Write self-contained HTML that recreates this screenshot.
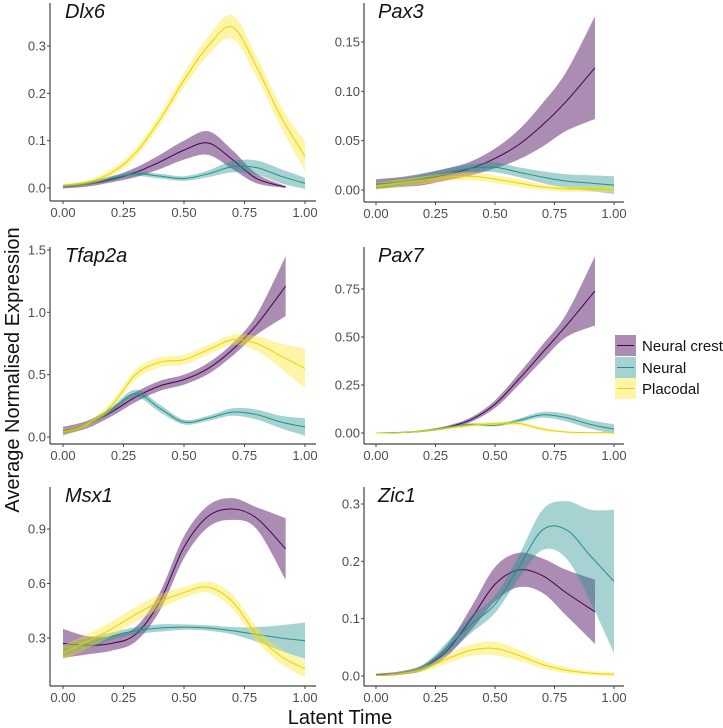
<!DOCTYPE html>
<html><head><meta charset="utf-8"><style>
body{margin:0;background:#fff;}
svg{display:block;font-family:"Liberation Sans",sans-serif;}
</style></head><body>
<svg id="chart" width="723" height="728">
<text x="19" y="370" transform="rotate(-90 19 370)" text-anchor="middle" font-size="20" fill="#111">Average Normalised Expression</text>
<text x="340" y="724" text-anchor="middle" font-size="20" fill="#111">Latent Time</text>
<g>
<rect x="615" y="335" width="21" height="21" fill="#440154" fill-opacity="0.45"/>
<line x1="617" x2="634" y1="345.5" y2="345.5" stroke="#440154"/>
<text x="642" y="351" font-size="15" fill="#111">Neural crest</text>
<rect x="615" y="357" width="21" height="21" fill="#21908C" fill-opacity="0.4"/>
<line x1="617" x2="634" y1="367.5" y2="367.5" stroke="#21908C"/>
<text x="642" y="373" font-size="15" fill="#111">Neural</text>
<rect x="615" y="378" width="21" height="21" fill="#FDE725" fill-opacity="0.4"/>
<line x1="617" x2="634" y1="388.5" y2="388.5" stroke="#E6D300"/>
<text x="642" y="394" font-size="15" fill="#111">Placodal</text>
</g>
</svg>
<script>
const xGrid = [0,0.1,0.2,0.3,0.4,0.5,0.6,0.7,0.8,0.9,1.0];
const xCrest = [0,0.1,0.2,0.3,0.4,0.5,0.6,0.7,0.8,0.92];

const dlx6Crest = [0.003,0.008,0.018,0.033,0.055,0.08,0.095,0.06,0.02,0.002];
const dlx6CrestHw = [0.004,0.005,0.006,0.01,0.015,0.02,0.025,0.02,0.01,0.002];
const dlx6Neural = [0.003,0.01,0.02,0.03,0.025,0.02,0.03,0.045,0.043,0.025,0.01];
const dlx6NeuralHw = [0.003,0.004,0.005,0.005,0.005,0.005,0.007,0.012,0.015,0.015,0.012];
const dlx6Plac = [0.006,0.012,0.032,0.074,0.144,0.228,0.3,0.34,0.256,0.151,0.067];
const dlx6PlacHw = [0.003,0.005,0.008,0.01,0.012,0.015,0.02,0.025,0.022,0.022,0.032];

const pax3Crest = [0.006,0.008,0.011,0.016,0.022,0.032,0.046,0.066,0.09,0.124];
const pax3CrestHw = [0.005,0.005,0.006,0.006,0.007,0.01,0.015,0.022,0.03,0.052];
const pax3Neural = [0.005,0.008,0.012,0.018,0.022,0.023,0.018,0.013,0.009,0.007,0.005];
const pax3NeuralHw = [0.004,0.004,0.004,0.004,0.004,0.005,0.005,0.006,0.007,0.008,0.009];
const pax3Plac = [0.004,0.007,0.01,0.013,0.014,0.011,0.007,0.003,0.001,0.001,0.0005];
const pax3PlacHw = [0.004,0.004,0.004,0.004,0.004,0.004,0.004,0.003,0.003,0.003,0.003];

const tfap2aCrest = [0.05,0.1,0.2,0.32,0.41,0.46,0.55,0.7,0.9,1.21];
const tfap2aCrestHw = [0.03,0.03,0.035,0.04,0.04,0.04,0.045,0.05,0.08,0.24];
const tfap2aNeural = [0.03,0.1,0.22,0.35,0.23,0.12,0.15,0.2,0.18,0.12,0.08];
const tfap2aNeuralHw = [0.02,0.02,0.02,0.03,0.03,0.02,0.02,0.03,0.04,0.05,0.07];
const tfap2aPlac = [0.04,0.1,0.25,0.5,0.6,0.62,0.7,0.78,0.75,0.65,0.55];
const tfap2aPlacHw = [0.02,0.02,0.03,0.04,0.04,0.04,0.04,0.04,0.06,0.1,0.16];

const pax7Crest = [0,0.002,0.01,0.03,0.07,0.15,0.28,0.42,0.56,0.74];
const pax7CrestHw = [0.001,0.002,0.004,0.008,0.012,0.02,0.03,0.04,0.06,0.18];
const pax7Neural = [0,0.003,0.012,0.03,0.045,0.04,0.065,0.095,0.08,0.045,0.02];
const pax7NeuralHw = [0.001,0.002,0.004,0.006,0.006,0.006,0.01,0.015,0.02,0.022,0.025];
const pax7Plac = [0,0.002,0.01,0.025,0.04,0.05,0.05,0.02,0.005,0.002,0.001];
const pax7PlacHw = [0.001,0.002,0.004,0.006,0.008,0.01,0.01,0.008,0.005,0.004,0.004];

const msx1Crest = [0.27,0.26,0.27,0.32,0.5,0.8,0.97,1.01,0.96,0.79];
const msx1CrestHw = [0.08,0.05,0.04,0.04,0.05,0.06,0.06,0.06,0.06,0.17];
const msx1Neural = [0.23,0.27,0.31,0.34,0.355,0.36,0.355,0.34,0.32,0.3,0.285];
const msx1NeuralHw = [0.03,0.03,0.02,0.02,0.02,0.015,0.015,0.02,0.04,0.07,0.1];
const msx1Plac = [0.22,0.28,0.35,0.43,0.5,0.55,0.58,0.5,0.32,0.2,0.13];
const msx1PlacHw = [0.04,0.04,0.04,0.04,0.04,0.03,0.03,0.04,0.04,0.04,0.05];

const zic1Crest = [0.002,0.005,0.015,0.045,0.1,0.16,0.185,0.175,0.145,0.112];
const zic1CrestHw = [0.002,0.003,0.005,0.01,0.02,0.03,0.03,0.03,0.04,0.056];
const zic1Neural = [0.001,0.004,0.015,0.05,0.09,0.125,0.19,0.255,0.255,0.21,0.165];
const zic1NeuralHw = [0.001,0.002,0.005,0.01,0.015,0.015,0.02,0.035,0.05,0.08,0.125];
const zic1Plac = [0.001,0.004,0.012,0.03,0.045,0.048,0.036,0.02,0.01,0.005,0.003];
const zic1PlacHw = [0.001,0.002,0.004,0.008,0.01,0.012,0.01,0.007,0.005,0.004,0.004];

const xTicks = [0,0.25,0.5,0.75,1];
const xTickLabels = ["0.00","0.25","0.50","0.75","1.00"];
const dlx6Ticks = [0,0.1,0.2,0.3]; const dlx6TickLabels = ["0.0","0.1","0.2","0.3"];
const pax3Ticks = [0,0.05,0.1,0.15]; const pax3TickLabels = ["0.00","0.05","0.10","0.15"];
const tfap2aTicks = [0,0.5,1,1.5]; const tfap2aTickLabels = ["0.0","0.5","1.0","1.5"];
const pax7Ticks = [0,0.25,0.5,0.75]; const pax7TickLabels = ["0.00","0.25","0.50","0.75"];
const msx1Ticks = [0.3,0.6,0.9]; const msx1TickLabels = ["0.3","0.6","0.9"];
const zic1Ticks = [0,0.1,0.2,0.3]; const zic1TickLabels = ["0.0","0.1","0.2","0.3"];

const NS = "http://www.w3.org/2000/svg";
const svg = document.getElementById('chart');
function mk(tag, attrs, parent){const e=document.createElementNS(NS,tag);for(const k in attrs)e.setAttribute(k,attrs[k]);(parent||svg).appendChild(e);return e;}
function smooth(pts){
  let d='M'+pts[0][0].toFixed(2)+','+pts[0][1].toFixed(2);
  for(let i=0;i<pts.length-1;i++){
    const p0=pts[Math.max(0,i-1)],p1=pts[i],p2=pts[i+1],p3=pts[Math.min(pts.length-1,i+2)];
    const c1=[p1[0]+(p2[0]-p0[0])/6,p1[1]+(p2[1]-p0[1])/6];
    const c2=[p2[0]-(p3[0]-p1[0])/6,p2[1]-(p3[1]-p1[1])/6];
    d+='C'+c1.map(v=>v.toFixed(2)).join(',')+' '+c2.map(v=>v.toFixed(2)).join(',')+' '+p2[0].toFixed(2)+','+p2[1].toFixed(2);
  }
  return d;
}
const colors={crest:['#440154',0.45,'#440154'],neural:['#21908C',0.4,'#21908C'],plac:['#FDE725',0.4,'#E6D300']};

function panel(cfg){
  const g=mk('g',{});
  
  
  const sx=v=>cfg.x0+(cfg.x1-cfg.x0)*v;
  const sy=v=>cfg.yA+(cfg.yB-cfg.yA)*(v-cfg.vA)/(cfg.vB-cfg.vA);
  cfg.series.forEach(s=>{
    const c=colors[s.key];
    const up=s.xs.map((x,i)=>[sx(x),sy(s.m[i]+s.h[i])]);
    const lo=s.xs.map((x,i)=>[sx(x),sy(Math.max(s.m[i]-s.h[i],cfg.floor))]).reverse();
    const band=mk('path',{d:smooth(up)+smooth(lo).replace('M','L')+'Z',fill:c[0],'fill-opacity':c[1]},g);
    
    
    const ln=mk('path',{d:smooth(s.xs.map((x,i)=>[sx(x),sy(s.m[i])])),fill:'none',stroke:c[2],'stroke-width':1},g);
    
    
  });
  const ya=mk('line',{x1:cfg.ax,x2:cfg.ax,y1:cfg.top,y2:cfg.axY,stroke:'#444','stroke-width':1.2},g);
  
  
  const xa=mk('line',{x1:cfg.ax,x2:cfg.xEnd,y1:cfg.axY,y2:cfg.axY,stroke:'#444','stroke-width':1.2},g);
  
  
  cfg.yt.forEach((v,i)=>{
    const y=sy(v);
    mk('line',{x1:cfg.ax-3,x2:cfg.ax,y1:y,y2:y,stroke:'#444'},g);
    const t=mk('text',{x:cfg.ax-4,y:y+4.5,'text-anchor':'end','font-size':13,fill:'#4d4d4d'},g);
    t.textContent=cfg.ytl[i];
    
    
  });
  xTicks.forEach((v,i)=>{
    const x=sx(v);
    mk('line',{x1:x,x2:x,y1:cfg.axY,y2:cfg.axY+3,stroke:'#444'},g);
    const t=mk('text',{x:x,y:cfg.axY+16,'text-anchor':'middle','font-size':13,fill:'#4d4d4d'},g);
    t.textContent=xTickLabels[i];
    
    
  });
  const ti=mk('text',{x:cfg.x0+2,y:cfg.top+15,'font-size':20,'font-style':'italic',fill:'#111'},g);
  ti.textContent=cfg.title;
  
  
}
const L={ax:50,x0:63,x1:305,xEnd:316}, R={ax:364,x0:376,x1:614,xEnd:624};
function S(c,n,ch,nh,p,ph){return [{key:'crest',xs:xCrest,m:c,h:ch},{key:'neural',xs:xGrid,m:n,h:nh},{key:'plac',xs:xGrid,m:p,h:ph}];}
panel(Object.assign({name:'dlx6',title:'Dlx6',top:3,axY:201,yA:188,vA:0,yB:46,vB:0.3,floor:-0.004,yt:dlx6Ticks,ytl:dlx6TickLabels,
  series:S(dlx6Crest,dlx6Neural,dlx6CrestHw,dlx6NeuralHw,dlx6Plac,dlx6PlacHw)},L));
panel(Object.assign({name:'pax3',title:'Pax3',top:3,axY:202,yA:190,vA:0,yB:42,vB:0.15,floor:-0.004,yt:pax3Ticks,ytl:pax3TickLabels,
  series:S(pax3Crest,pax3Neural,pax3CrestHw,pax3NeuralHw,pax3Plac,pax3PlacHw)},R));
panel(Object.assign({name:'tfap2a',title:'Tfap2a',top:247,axY:444,yA:437,vA:0,yB:250,vB:1.5,floor:-0.02,yt:tfap2aTicks,ytl:tfap2aTickLabels,
  series:S(tfap2aCrest,tfap2aNeural,tfap2aCrestHw,tfap2aNeuralHw,tfap2aPlac,tfap2aPlacHw)},L));
panel(Object.assign({name:'pax7',title:'Pax7',top:247,axY:444,yA:433,vA:0,yB:289,vB:0.75,floor:-0.01,yt:pax7Ticks,ytl:pax7TickLabels,
  series:S(pax7Crest,pax7Neural,pax7CrestHw,pax7NeuralHw,pax7Plac,pax7PlacHw)},R));
panel(Object.assign({name:'msx1',title:'Msx1',top:487,axY:686,yA:638,vA:0.3,yB:529,vB:0.9,floor:-1,yt:msx1Ticks,ytl:msx1TickLabels,
  series:S(msx1Crest,msx1Neural,msx1CrestHw,msx1NeuralHw,msx1Plac,msx1PlacHw)},L));
panel(Object.assign({name:'zic1',title:'Zic1',top:487,axY:686,yA:676,vA:0,yB:504,vB:0.3,floor:-0.003,yt:zic1Ticks,ytl:zic1TickLabels,
  series:S(zic1Crest,zic1Neural,zic1CrestHw,zic1NeuralHw,zic1Plac,zic1PlacHw)},R));
</script>
</body></html>
